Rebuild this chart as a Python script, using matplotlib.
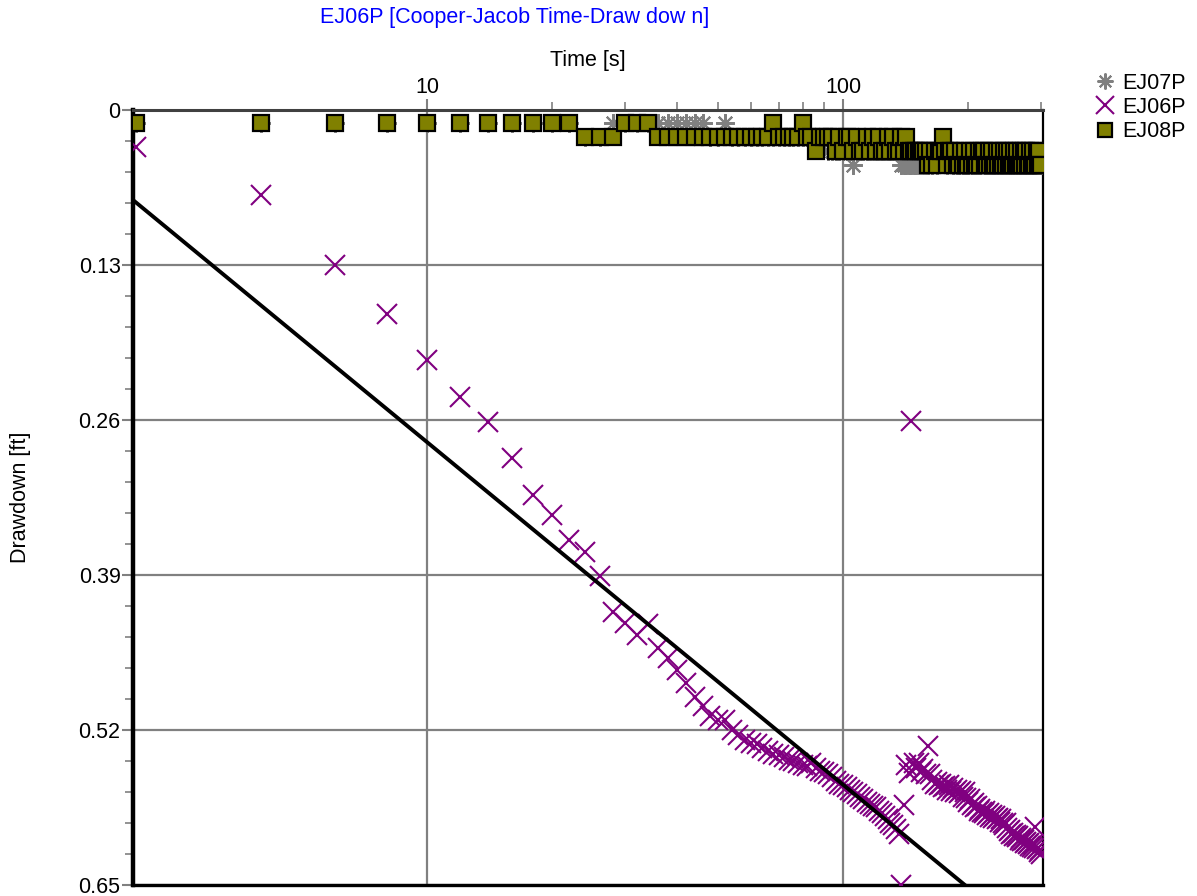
import numpy as np
import matplotlib
matplotlib.use("Agg")
import matplotlib.pyplot as plt
from matplotlib.ticker import FixedLocator, NullFormatter

plt.rcParams['font.family'] = ['Liberation Sans', 'DejaVu Sans']

# ---- data -------------------------------------------------------------
time_s = np.arange(2, 302, 2)  # sampling times [s]

ej06p = [
    0.031, 0.071, 0.130, 0.171, 0.210, 0.241, 0.262, 0.292, 0.323, 0.340,
    0.361, 0.371, 0.391, 0.421, 0.430, 0.440, 0.431, 0.451, 0.460, 0.470,
    0.481, 0.492, 0.500, 0.508, 0.512, 0.512, 0.520, 0.524, 0.528, 0.531,
    0.532, 0.535, 0.538, 0.540, 0.541, 0.543, 0.545, 0.546, 0.548, 0.549,
    0.550, 0.548, 0.552, 0.554, 0.555, 0.557, 0.559, 0.563, 0.565, 0.566,
    0.568, 0.570, 0.572, 0.574, 0.576, 0.578, 0.580, 0.582, 0.584, 0.585,
    0.588, 0.590, 0.592, 0.595, 0.598, 0.600, 0.603, 0.607, 0.650, 0.583,
    0.549, 0.556, 0.261, 0.548, 0.552, 0.548, 0.555, 0.553, 0.557, 0.533,
    0.557, 0.562, 0.565, 0.564, 0.566, 0.565, 0.568, 0.567, 0.570, 0.566,
    0.571, 0.569, 0.572, 0.570, 0.573, 0.571, 0.576, 0.572, 0.577, 0.580,
    0.578, 0.583, 0.581, 0.585, 0.584, 0.588, 0.586, 0.589, 0.590, 0.588,
    0.591, 0.590, 0.593, 0.591, 0.594, 0.592, 0.595, 0.594, 0.597, 0.595,
    0.598, 0.600, 0.598, 0.602, 0.605, 0.604, 0.607, 0.606, 0.609, 0.608,
    0.610, 0.609, 0.612, 0.611, 0.613, 0.612, 0.615, 0.614, 0.616, 0.615,
    0.617, 0.618, 0.616, 0.619, 0.601, 0.620, 0.619, 0.622, 0.621, 0.624,
]

ej08p = [
    0.011, 0.011, 0.011, 0.011, 0.011, 0.011, 0.011, 0.011, 0.011, 0.011,
    0.011, 0.023, 0.023, 0.023, 0.011, 0.011, 0.011, 0.023, 0.023, 0.023,
    0.023, 0.023, 0.023, 0.023, 0.023, 0.023, 0.023, 0.023, 0.023, 0.023,
    0.023, 0.023, 0.023, 0.011, 0.023, 0.023, 0.023, 0.023, 0.023, 0.011,
    0.023, 0.023, 0.034, 0.023, 0.023, 0.023, 0.023, 0.034, 0.023, 0.034,
    0.023, 0.023, 0.034, 0.023, 0.034, 0.034, 0.023, 0.034, 0.023, 0.034,
    0.023, 0.034, 0.034, 0.023, 0.034, 0.023, 0.034, 0.034, 0.023, 0.034,
    0.023, 0.034, 0.034, 0.034, 0.034, 0.034, 0.034, 0.034, 0.034, 0.046,
    0.034, 0.046, 0.034, 0.046, 0.034, 0.034, 0.023, 0.034, 0.046, 0.034,
    0.034, 0.046, 0.034, 0.046, 0.046, 0.034, 0.046, 0.034, 0.046, 0.046,
    0.034, 0.046, 0.034, 0.046, 0.046, 0.034, 0.046, 0.034, 0.034, 0.046,
    0.046, 0.034, 0.046, 0.034, 0.046, 0.046, 0.034, 0.046, 0.034, 0.046,
    0.046, 0.034, 0.046, 0.034, 0.046, 0.034, 0.046, 0.046, 0.034, 0.046,
    0.034, 0.046, 0.046, 0.034, 0.046, 0.034, 0.046, 0.034, 0.046, 0.046,
    0.034, 0.046, 0.034, 0.046, 0.046, 0.034, 0.046, 0.034, 0.046, 0.046,
]

ej07p = [
    0.011, 0.011, 0.011, 0.011, 0.011, 0.011, 0.011, 0.011, 0.011, 0.011,
    0.011, 0.023, 0.023, 0.011, 0.011, 0.011, 0.011, 0.011, 0.011, 0.011,
    0.011, 0.011, 0.011, 0.023, 0.023, 0.011, 0.023, 0.023, 0.023, 0.023,
    0.023, 0.023, 0.023, 0.023, 0.023, 0.023, 0.023, 0.023, 0.023, 0.023,
    0.023, 0.023, 0.023, 0.023, 0.023, 0.034, 0.034, 0.034, 0.034, 0.034,
    0.034, 0.034, 0.046, 0.034, 0.034, 0.034, 0.034, 0.034, 0.034, 0.034,
    0.034, 0.034, 0.034, 0.034, 0.034, 0.034, 0.034, 0.034, 0.046, 0.046,
    0.046, 0.046, 0.046, 0.046, 0.046, 0.046, 0.046, 0.046, 0.046, 0.046,
    0.034, 0.046, 0.034, 0.046, 0.034, 0.034, 0.034, 0.034, 0.046, 0.034,
    0.034, 0.046, 0.034, 0.046, 0.046, 0.034, 0.046, 0.034, 0.046, 0.046,
    0.034, 0.046, 0.034, 0.046, 0.046, 0.034, 0.046, 0.034, 0.034, 0.046,
    0.046, 0.034, 0.046, 0.034, 0.046, 0.046, 0.034, 0.046, 0.034, 0.046,
    0.046, 0.034, 0.046, 0.034, 0.046, 0.034, 0.046, 0.046, 0.034, 0.046,
    0.034, 0.046, 0.046, 0.034, 0.046, 0.034, 0.046, 0.034, 0.046, 0.046,
    0.034, 0.046, 0.034, 0.046, 0.046, 0.034, 0.046, 0.034, 0.046, 0.046,
]

# Cooper-Jacob straight-line fit: s = ds * log10(t / t0)
cj_ds_per_cycle = 0.2873   # ft per log cycle
cj_t0 = 1.073              # s

y_ticks = [0, 0.13, 0.26, 0.39, 0.52, 0.65]
y_tick_labels = ["0", "0.13", "0.26", "0.39", "0.52", "0.65"]
y_minor_ticks = [0.026, 0.052, 0.078, 0.104, 0.156, 0.182, 0.208, 0.234,
                 0.286, 0.312, 0.338, 0.364, 0.416, 0.442, 0.468, 0.494,
                 0.546, 0.572, 0.598, 0.624]
x_ticks = [10, 100]
x_tick_labels = ["10", "100"]
x_minor_ticks = [20, 30, 40, 50, 60, 70, 80, 90, 200, 300]
x_lim = (1.965, 302.6)

FS = 15.5

# ---- figure -------------------------------------------------------------
fig = plt.figure(figsize=(11.97, 8.96), dpi=100)
ax = fig.add_axes([133 / 1197, 1 - 885 / 896, (1043 - 133) / 1197, (885 - 110) / 896])

ax.set_xscale('log')
ax.set_xlim(*x_lim)
ax.set_ylim(0.65, 0)

grid_c = '#808080'
ax.xaxis.set_major_locator(FixedLocator(x_ticks))
ax.set_xticklabels(x_tick_labels)
ax.xaxis.set_minor_locator(FixedLocator(x_minor_ticks))
ax.xaxis.set_minor_formatter(NullFormatter())
ax.set_yticks(y_ticks)
ax.set_yticklabels(y_tick_labels)
ax.yaxis.set_minor_locator(FixedLocator(y_minor_ticks))

ax.xaxis.tick_top()
ax.xaxis.set_label_position('top')
ax.tick_params(axis='both', which='major', direction='out', length=8, width=1.5,
               color=grid_c, labelsize=FS)
ax.tick_params(axis='x', which='major', pad=0.5)
ax.tick_params(axis='y', which='major', pad=1)
ax.tick_params(axis='both', which='minor', direction='out', length=6, width=1.2,
               color=grid_c)
ax.tick_params(axis='x', which='both', top=True, bottom=False)

ax.grid(True, which='major', color=grid_c, linewidth=1.6)
ax.set_axisbelow(True)

for side, c, lw in [('left', 'black', 3.2), ('bottom', 'black', 2.4),
                    ('right', 'black', 1.6), ('top', '#404040', 2.2)]:
    ax.spines[side].set_color(c)
    ax.spines[side].set_linewidth(lw)

t_arr = np.asarray(time_s, dtype=float)

ax.plot(t_arr, ej07p, linestyle='none', marker=(8, 2, 0), markersize=13.5,
        markeredgewidth=1.5, color='#808080', label='EJ07P', zorder=3)
ax.plot(t_arr, ej06p, linestyle='none', marker='x', markersize=14.5,
        markeredgewidth=1.5, color='#800080', label='EJ06P', zorder=4)
ax.plot(t_arr, ej08p, linestyle='none', marker='s', markersize=11.5,
        markeredgewidth=1.6, markerfacecolor='#808000', markeredgecolor='black',
        label='EJ08P', zorder=5)

line_t = np.array(x_lim)
line_s = cj_ds_per_cycle * np.log10(line_t / cj_t0)
ax.plot(line_t, line_s, color='black', linewidth=2.8, zorder=6)

ax.set_xlabel('Time [s]', fontsize=FS, labelpad=8)
ax.set_ylabel('Drawdown [ft]', fontsize=FS, labelpad=34)

fig.text(515 / 1197, 1 - 18 / 896, 'EJ06P [Cooper-Jacob Time-Draw dow n]',
         color='#0000FF', fontsize=FS, ha='center', va='center')

leg = ax.legend(loc='upper left', bbox_to_anchor=(1086 / 1197, 1 - 64 / 896),
                bbox_transform=fig.transFigure, frameon=False, fontsize=FS,
                handletextpad=0.3, labelspacing=0.15, handlelength=1.0,
                borderaxespad=0, markerscale=0.85)

fig.savefig('out.png', dpi=100)
